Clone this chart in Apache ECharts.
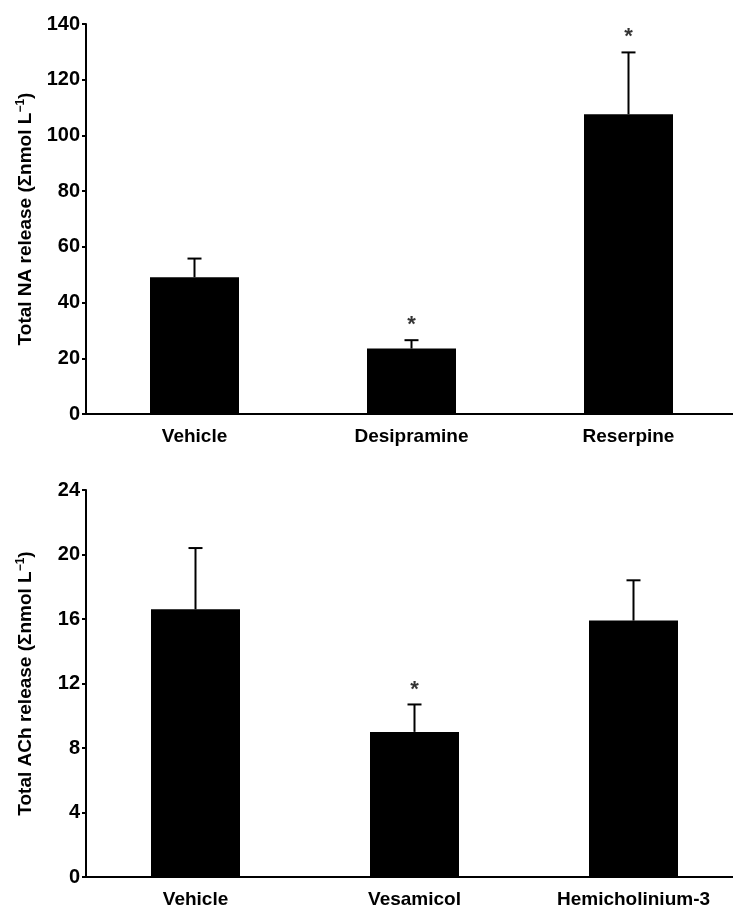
<!DOCTYPE html>
<html>
<head>
<meta charset="utf-8">
<script src="https://cdn.jsdelivr.net/npm/echarts@6/dist/echarts.min.js"></script>
<style>
html,body{margin:0;padding:0;background:#fff;overflow:hidden;}
#chart{width:750px;height:909px;}
</style>
</head>
<body>
<div id="chart"></div>
<script>
// ---- data ----
var naCategories = ['Vehicle', 'Desipramine', 'Reserpine'];
var naMean = [49.1, 23.5, 107.6];
var naSem = [6.7, 3.0, 22.2];
var naSig = [false, true, true];

var achCategories = ['Vehicle', 'Vesamicol', 'Hemicholinium-3'];
var achMean = [16.6, 9.0, 15.9];
var achSem = [3.8, 1.7, 2.5];
var achSig = [false, true, false];

var naTicks = [0, 20, 40, 60, 80, 100, 120, 140];
var achTicks = [0, 4, 8, 12, 16, 20, 24];

var FONT = '"Liberation Sans", Arial, Helvetica, sans-serif';

function errorData(mean, sem) {
  return mean.map(function (m, i) { return [i, m, m + sem[i]]; });
}
function sigData(mean, sem, sig) {
  return mean.map(function (m, i) {
    return sig[i] ? [i, m + sem[i]] : [i, null];
  });
}
function errorRender(params, api) {
  var lo = api.coord([api.value(0), api.value(1)]);
  var hi = api.coord([api.value(0), api.value(2)]);
  var half = 7;
  var style = { stroke: '#000', lineWidth: 2 };
  return {
    type: 'group',
    children: [
      { type: 'line', shape: { x1: lo[0], y1: lo[1], x2: hi[0], y2: hi[1] }, style: style },
      { type: 'line', shape: { x1: hi[0] - half, y1: hi[1], x2: hi[0] + half, y2: hi[1] }, style: style }
    ]
  };
}

function yAxis(gridIndex, ticks, name) {
  return {
    type: 'value', gridIndex: gridIndex,
    min: ticks[0], max: ticks[ticks.length - 1], interval: ticks[1] - ticks[0],
    name: name, nameLocation: 'middle', nameGap: 50, nameRotate: 90,
    nameTextStyle: {
      fontFamily: FONT, fontSize: 19, fontWeight: 'bold', color: '#000',
      rich: { sup: { fontFamily: FONT, fontSize: 12, fontWeight: 'bold', color: '#000', verticalAlign: 'top', padding: [0, 0, 9, 0] } }
    },
    axisLine: { show: true, lineStyle: { color: '#000', width: 2 } },
    axisTick: { show: true, inside: false, length: 4, lineStyle: { color: '#000', width: 2 } },
    axisLabel: { fontFamily: FONT, fontSize: 20, fontWeight: 'bold', color: '#000', margin: 6 },
    splitLine: { show: false }
  };
}
function xAxis(gridIndex, cats) {
  return {
    type: 'category', gridIndex: gridIndex, data: cats, boundaryGap: true,
    axisLine: { show: true, lineStyle: { color: '#000', width: 2 } },
    axisTick: { show: false },
    axisLabel: { fontFamily: FONT, fontSize: 19, fontWeight: 'bold', color: '#000', margin: 13 }
  };
}

var chart = echarts.init(document.getElementById('chart'), null, { renderer: 'canvas' });
chart.setOption({
  animation: false,
  backgroundColor: '#fff',
  grid: [
    { left: 86, top: 24, width: 651, height: 390 },
    { left: 86, top: 490, width: 657, height: 388 }
  ],
  xAxis: [xAxis(0, naCategories), xAxis(1, achCategories)],
  yAxis: [
    yAxis(0, naTicks, 'Total NA release (\u03A3nmol L{sup|\u22121})'),
    yAxis(1, achTicks, 'Total ACh release (\u03A3nmol L{sup|\u22121})')
  ],
  series: [
    { type: 'bar', xAxisIndex: 0, yAxisIndex: 0, data: naMean, barWidth: 89, itemStyle: { color: '#000' } },
    { type: 'custom', xAxisIndex: 0, yAxisIndex: 0, data: errorData(naMean, naSem), renderItem: errorRender, z: 3 },
    { type: 'scatter', xAxisIndex: 0, yAxisIndex: 0, data: sigData(naMean, naSem, naSig), symbolSize: 0,
      label: { show: true, position: 'top', distance: 4, formatter: '*', fontFamily: FONT, fontSize: 22, fontWeight: 'bold', color: '#000' } },
    { type: 'bar', xAxisIndex: 1, yAxisIndex: 1, data: achMean, barWidth: 89, itemStyle: { color: '#000' } },
    { type: 'custom', xAxisIndex: 1, yAxisIndex: 1, data: errorData(achMean, achSem), renderItem: errorRender, z: 3 },
    { type: 'scatter', xAxisIndex: 1, yAxisIndex: 1, data: sigData(achMean, achSem, achSig), symbolSize: 0,
      label: { show: true, position: 'top', distance: 4, formatter: '*', fontFamily: FONT, fontSize: 22, fontWeight: 'bold', color: '#000' } }
  ]
});
</script>
</body>
</html>
